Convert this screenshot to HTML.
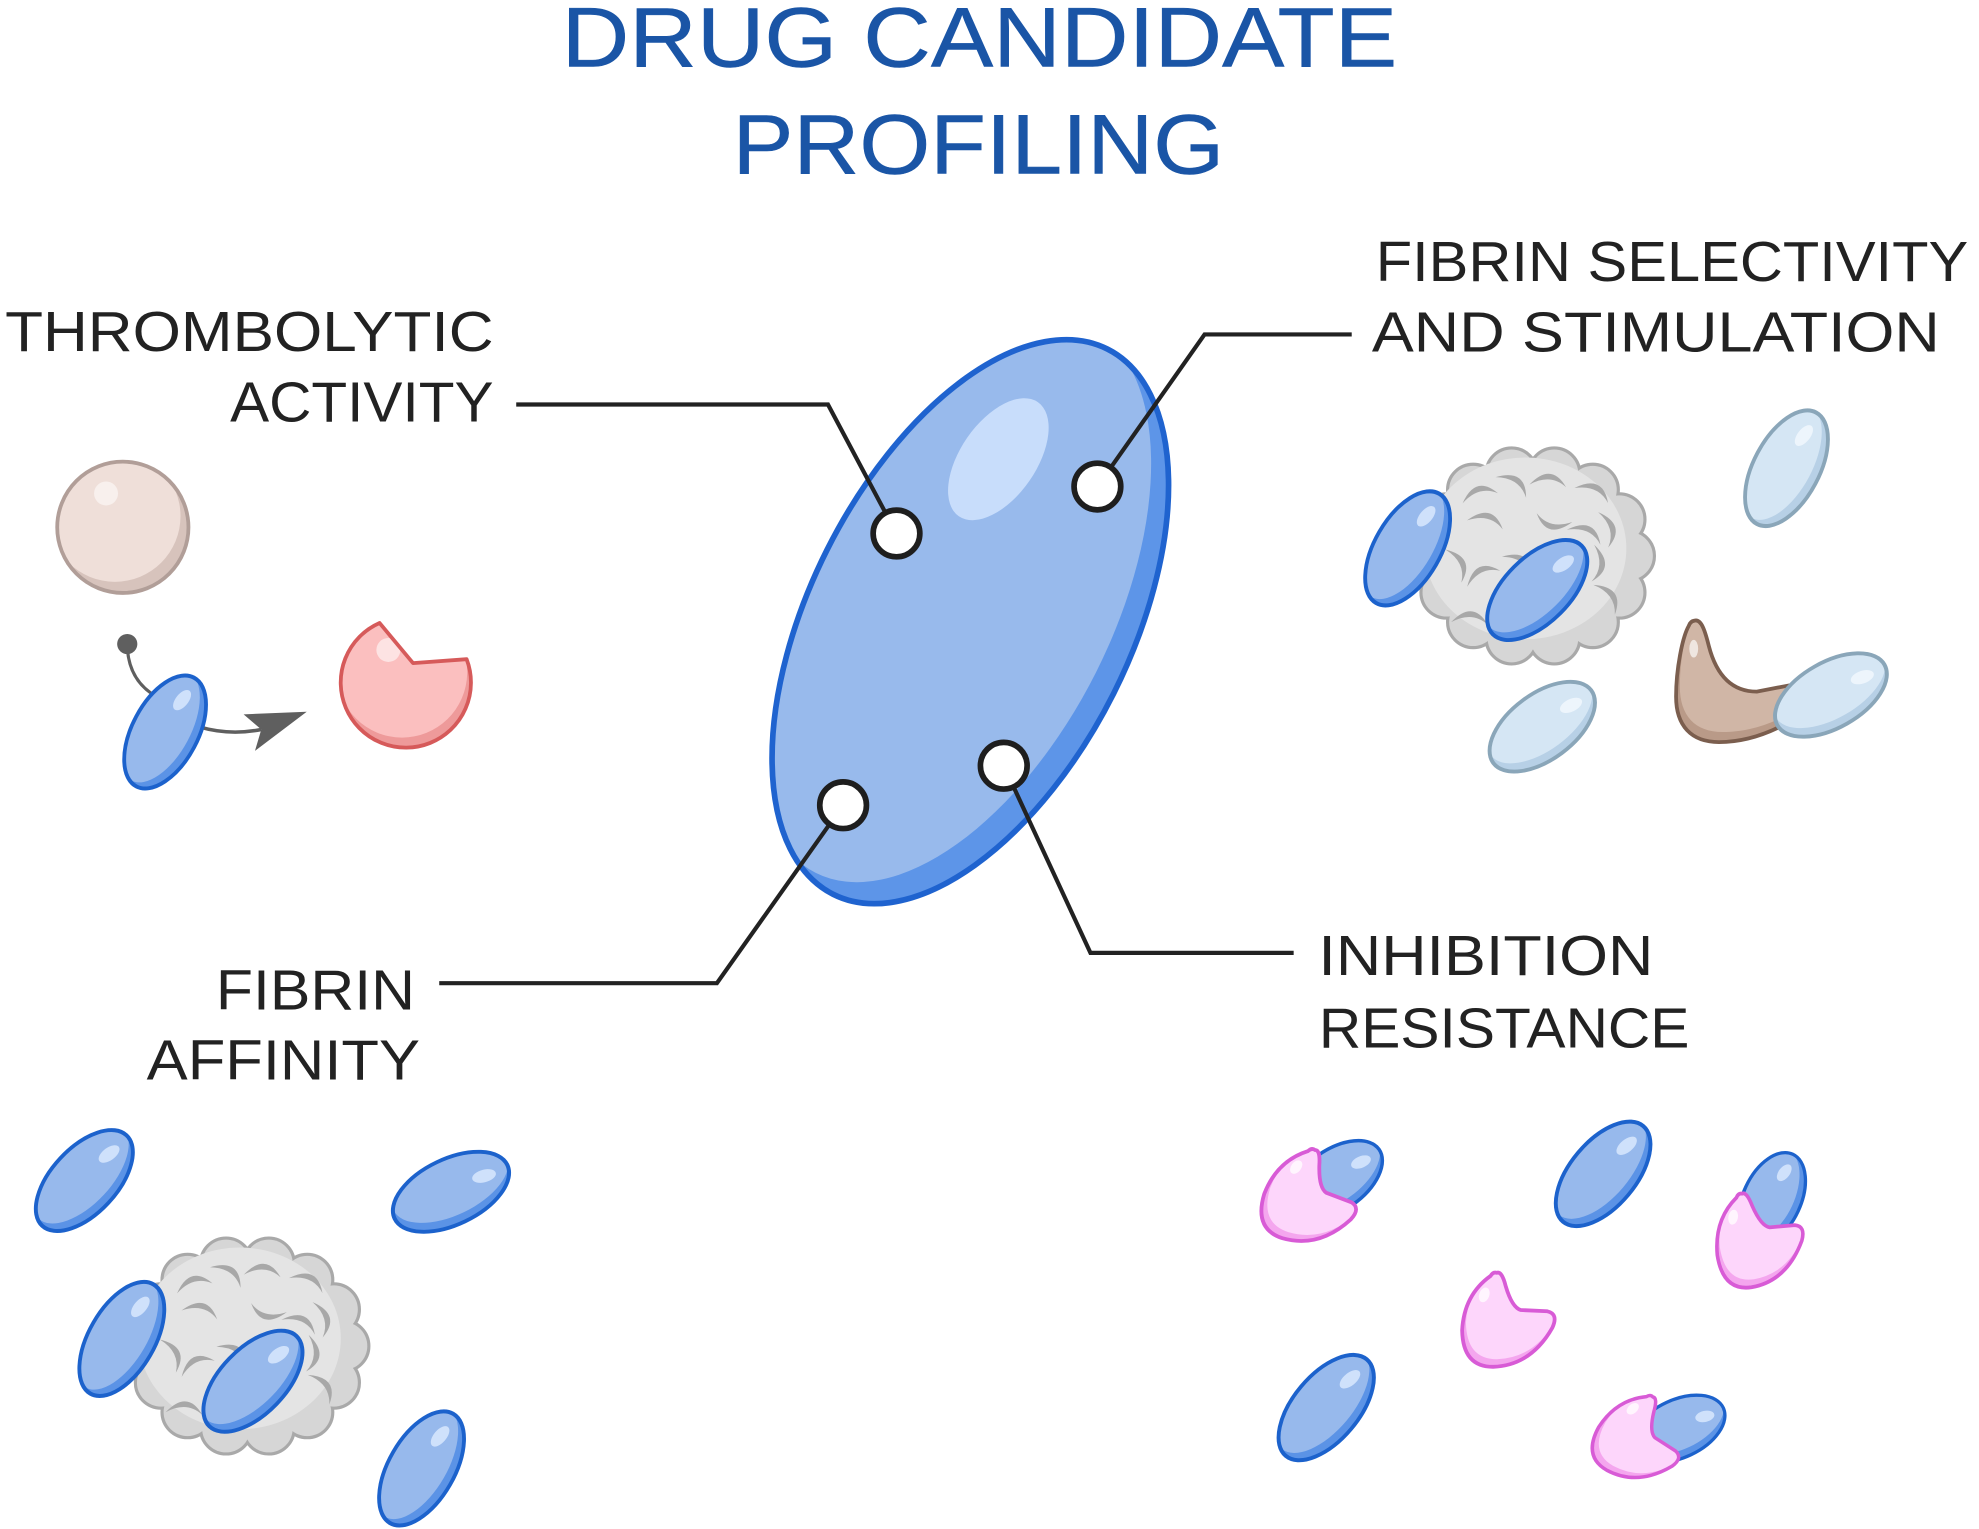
<!DOCTYPE html>
<html>
<head>
<meta charset="utf-8">
<style>
  html,body{margin:0;padding:0;background:#ffffff;}
  svg{display:block;}
  text{font-family:"Liberation Sans", sans-serif;}
</style>
</head>
<body>
<svg xmlns="http://www.w3.org/2000/svg" xmlns:xlink="http://www.w3.org/1999/xlink" width="1979" height="1529" viewBox="0 0 1568 1211.5">
  <defs>
    <!-- blue pill -->
    <clipPath id="pc"><ellipse rx="26" ry="46"/></clipPath>
    <g id="bp">
      <ellipse rx="26" ry="46" fill="#5b93e6"/>
      <ellipse cx="-6" cy="-2" rx="25" ry="46" fill="#97b9ec" clip-path="url(#pc)"/>
      <ellipse cx="0" cy="-27" rx="5" ry="9" fill="#cfe1fb" transform="rotate(12 0 -27)"/>
      <ellipse rx="26" ry="46" fill="none" stroke="#1c62cc" stroke-width="3"/>
    </g>
    <!-- light blue pill -->
    <g id="lp">
      <ellipse rx="26" ry="46" fill="#b7d0e6"/>
      <ellipse cx="-6" cy="-2" rx="25" ry="46" fill="#d5e6f4" clip-path="url(#pc)"/>
      <ellipse cx="0" cy="-27" rx="5" ry="9" fill="#edf5fc" transform="rotate(12 0 -27)"/>
      <ellipse rx="26" ry="46" fill="none" stroke="#8aa6b9" stroke-width="3"/>
    </g>
    <!-- big ellipse clip -->
    <clipPath id="bc"><ellipse rx="127" ry="241.8"/></clipPath>
    <!-- pink bitten shape -->
    <path id="pk" d="M-7,-37.5 Q-3,-39 0,-27 Q5,-10 12,-8 L33,-7 Q42,-5 37,6 Q20,36 -10,37 Q-34,37 -34.5,8 Q-33,-20 -12,-35 Q-10,-38.5 -7,-37.5Z"/>
    <clipPath id="pkc"><path d="M-7,-37.5 Q-3,-39 0,-27 Q5,-10 12,-8 L33,-7 Q42,-5 37,6 Q20,36 -10,37 Q-34,37 -34.5,8 Q-33,-20 -12,-35 Q-10,-38.5 -7,-37.5Z"/></clipPath>
    <g id="pkg">
      <use xlink:href="#pk" href="#pk" fill="#f4a6ee"/>
      <g clip-path="url(#pkc)"><use xlink:href="#pk" href="#pk" fill="#fdd6fb" transform="translate(3,-6)"/></g>
      <ellipse cx="-17" cy="-20" rx="4" ry="6" fill="#ffffff" opacity="0.75" transform="rotate(20 -17 -20)"/>
      <use xlink:href="#pk" href="#pk" fill="none" stroke="#d85bd6" stroke-width="3"/>
    </g>
    <!-- cloud blob -->
    <g id="blob">
      <ellipse rx="76" ry="67"/>
      <circle cx="76" cy="0" r="19"/>
      <circle cx="68.5" cy="29" r="19"/>
      <circle cx="47.4" cy="52.4" r="19"/>
      <circle cx="16.9" cy="65.3" r="19"/>
      <circle cx="-16.9" cy="65.3" r="19"/>
      <circle cx="-47.4" cy="52.4" r="19"/>
      <circle cx="-68.5" cy="29" r="19"/>
      <circle cx="-76" cy="0" r="19"/>
      <circle cx="-68.5" cy="-29" r="19"/>
      <circle cx="-47.4" cy="-52.4" r="19"/>
      <circle cx="-16.9" cy="-65.3" r="19"/>
      <circle cx="16.9" cy="-65.3" r="19"/>
      <circle cx="47.4" cy="-52.4" r="19"/>
      <circle cx="68.5" cy="-29" r="19"/>
    </g>
    <path id="cr" d="M-14,6 Q0,-15 15,3 Q1,-6 -14,6Z"/>
    <g id="cloud">
      <use xlink:href="#blob" href="#blob" fill="#a9a9a9" stroke="#a9a9a9" stroke-width="5"/>
      <use xlink:href="#blob" href="#blob" fill="#d6d6d6"/>
      <ellipse cx="-6" cy="-6" rx="80" ry="72" fill="#e4e4e4"/>
      <g fill="#a8a8a8">
        <use xlink:href="#cr" href="#cr" transform="translate(-43,-50) rotate(-10)"/>
        <use xlink:href="#cr" href="#cr" transform="translate(-15,-58) rotate(40)"/>
        <use xlink:href="#cr" href="#cr" transform="translate(12,-60) rotate(10)"/>
        <use xlink:href="#cr" href="#cr" transform="translate(48,-52) rotate(30)"/>
        <use xlink:href="#cr" href="#cr" transform="translate(-37,-29) rotate(20)"/>
        <use xlink:href="#cr" href="#cr" transform="translate(16,-26) rotate(200)"/>
        <use xlink:href="#cr" href="#cr" transform="translate(42,-19) rotate(30)"/>
        <use xlink:href="#cr" href="#cr" transform="translate(60,-22) rotate(80)"/>
        <use xlink:href="#cr" href="#cr" transform="translate(-59,6) rotate(70)"/>
        <use xlink:href="#cr" href="#cr" transform="translate(-41,14) rotate(-20)"/>
        <use xlink:href="#cr" href="#cr" transform="translate(52,6) rotate(100)"/>
        <use xlink:href="#cr" href="#cr" transform="translate(60,32) rotate(60)"/>
        <use xlink:href="#cr" href="#cr" transform="translate(-50,49) rotate(10)"/>
        <use xlink:href="#cr" href="#cr" transform="translate(-15,49) rotate(60)"/>
        <use xlink:href="#cr" href="#cr" transform="translate(20,30) rotate(-30)"/>
        <use xlink:href="#cr" href="#cr" transform="translate(-10,5) rotate(40)"/>
      </g>
    </g>
    <!-- horn clip -->
    <clipPath id="hc"><path d="M1342.5,491.8 C1348,490 1351,500 1354,512 C1360,535 1372,548 1392,548 L1418,543 L1414,574 C1395,584 1378,588 1362,588 C1340,588 1328,575 1328,552 C1328,530 1333,505 1338,496 C1339,493 1341,492 1342.5,491.8 Z"/></clipPath>
    <clipPath id="sc"><circle cx="97.3" cy="417.8" r="52"/></clipPath>
    <clipPath id="mc"><path d="M300.7,493.6 L327.2,525.4 L369.7,522.3 A51.6,51.6 0 1 1 300.7,493.6 Z"/></clipPath>
  </defs>

  <rect x="0" y="0" width="1568" height="1211.5" fill="#ffffff"/>

  <!-- Title -->
  <text x="445" y="52.8" font-size="67" fill="#1a55a6" stroke="#1a55a6" stroke-width="0.4" textLength="662" lengthAdjust="spacingAndGlyphs">DRUG CANDIDATE</text>
  <text x="580.5" y="137.3" font-size="67" fill="#1a55a6" stroke="#1a55a6" stroke-width="0.4" textLength="389.5" lengthAdjust="spacingAndGlyphs">PROFILING</text>

  <!-- Labels -->
  <g fill="#222222" font-size="44.6">
    <text x="4" y="278" textLength="387" lengthAdjust="spacingAndGlyphs">THROMBOLYTIC</text>
    <text x="182.3" y="334" textLength="208.7" lengthAdjust="spacingAndGlyphs">ACTIVITY</text>
    <text x="1090" y="222.7" textLength="469.5" lengthAdjust="spacingAndGlyphs">FIBRIN SELECTIVITY</text>
    <text x="1087" y="278.7" textLength="450" lengthAdjust="spacingAndGlyphs">AND STIMULATION</text>
    <text x="171" y="799.8" textLength="157.8" lengthAdjust="spacingAndGlyphs">FIBRIN</text>
    <text x="116.2" y="855.2" textLength="216.6" lengthAdjust="spacingAndGlyphs">AFFINITY</text>
    <text x="1044.6" y="772.6" textLength="265.4" lengthAdjust="spacingAndGlyphs">INHIBITION</text>
    <text x="1045" y="829.9" textLength="293.6" lengthAdjust="spacingAndGlyphs">RESISTANCE</text>
  </g>

  <!-- Big central ellipse -->
  <g transform="translate(768.8,492.6) rotate(26.7)">
    <ellipse rx="127" ry="241.8" fill="#5d95e8"/>
    <ellipse cx="-20" cy="-9" rx="127" ry="241.8" fill="#98baec" clip-path="url(#bc)"/>
    <ellipse cx="-38" cy="-125" rx="30" ry="55" fill="#c8ddfb" transform="rotate(8 -38 -125)"/>
    <ellipse rx="127" ry="241.8" fill="none" stroke="#1f63cf" stroke-width="4.5"/>
  </g>

  <!-- Connector lines -->
  <g fill="none" stroke="#222222" stroke-width="3.3" stroke-linejoin="miter">
    <polyline points="409,320.5 656,320.5 710.3,422.7"/>
    <polyline points="1071,265 954.4,265 869.5,385.5"/>
    <polyline points="348,779 568,779 668,638"/>
    <polyline points="1025,755 864,755 795.3,606.7"/>
  </g>
  <g fill="#ffffff" stroke="#1e1e1e" stroke-width="4.5">
    <circle cx="710.3" cy="422.7" r="18.5"/>
    <circle cx="869.5" cy="385.5" r="18.5"/>
    <circle cx="668" cy="638" r="18.5"/>
    <circle cx="795.3" cy="606.7" r="18.5"/>
  </g>

  <!-- Top-left group: sphere -->
  <circle cx="97.3" cy="417.8" r="52" fill="#d7c3bc"/>
  <g clip-path="url(#sc)"><circle cx="91" cy="409" r="52" fill="#efdfd9"/></g>
  <circle cx="84" cy="391" r="9.5" fill="#f8f0ed"/>
  <circle cx="97.3" cy="417.8" r="52" fill="none" stroke="#b19e98" stroke-width="3"/>

  <!-- dot + curve + pill + arrow -->
  <path d="M101,515 Q103,540 124,552" fill="none" stroke="#5f5f5f" stroke-width="2.5"/>
  <circle cx="100.8" cy="510.3" r="8" fill="#5f5f5f"/>
  <path d="M158,576 Q182,583 207,578" fill="none" stroke="#5f5f5f" stroke-width="2.8"/>
  <polygon points="193,566 243,564 202,595 207,578" fill="#5f5f5f"/>
  <use xlink:href="#bp" href="#bp" transform="translate(130.8,580) rotate(28) scale(1,1.06)"/>

  <!-- pink pacman -->
  <path d="M300.7,493.6 L327.2,525.4 L369.7,522.3 A51.6,51.6 0 1 1 300.7,493.6 Z" fill="#ee9a9a"/>
  <g clip-path="url(#mc)"><path d="M300.7,493.6 L327.2,525.4 L369.7,522.3 A51.6,51.6 0 1 1 300.7,493.6 Z" fill="#fbbfbf" transform="translate(-3,-8)"/></g>
  <circle cx="307.7" cy="515" r="9.5" fill="#fde3e3"/>
  <path d="M300.7,493.6 L327.2,525.4 L369.7,522.3 A51.6,51.6 0 1 1 300.7,493.6 Z" fill="none" stroke="#d65a5a" stroke-width="3" stroke-linejoin="round"/>

  <!-- Top-right group -->
  <use xlink:href="#cloud" href="#cloud" transform="translate(1214.6,440.5)"/>
  <use xlink:href="#bp" href="#bp" transform="translate(1115.3,434.5) rotate(30) scale(1,1.087)"/>
  <use xlink:href="#bp" href="#bp" transform="translate(1218,467.5) rotate(45) scale(1,1.08)"/>
  <use xlink:href="#lp" href="#lp" transform="translate(1415.5,371) rotate(28) scale(1,1.087)"/>
  <use xlink:href="#lp" href="#lp" transform="translate(1222,575.8) rotate(53.4) scale(1,1.05)"/>
  <!-- horn -->
  <path d="M1342.5,491.8 C1348,490 1351,500 1354,512 C1360,535 1372,548 1392,548 L1418,543 L1414,574 C1395,584 1378,588 1362,588 C1340,588 1328,575 1328,552 C1328,530 1333,505 1338,496 C1339,493 1341,492 1342.5,491.8 Z" fill="#b99a88"/>
  <g clip-path="url(#hc)"><path d="M1342.5,491.8 C1348,490 1351,500 1354,512 C1360,535 1372,548 1392,548 L1418,543 L1414,574 C1395,584 1378,588 1362,588 C1340,588 1328,575 1328,552 C1328,530 1333,505 1338,496 C1339,493 1341,492 1342.5,491.8 Z" fill="#d0b6a6" transform="translate(3,-8)"/></g>
  <ellipse cx="1342" cy="514" rx="3.5" ry="7" fill="#efe6e0"/>
  <path d="M1342.5,491.8 C1348,490 1351,500 1354,512 C1360,535 1372,548 1392,548 L1418,543 L1414,574 C1395,584 1378,588 1362,588 C1340,588 1328,575 1328,552 C1328,530 1333,505 1338,496 C1339,493 1341,492 1342.5,491.8 Z" fill="none" stroke="#7b5e4e" stroke-width="3"/>
  <use xlink:href="#lp" href="#lp" transform="translate(1450.7,550.7) rotate(60.4) scale(1,1.06)"/>

  <!-- Bottom-left group -->
  <use xlink:href="#bp" href="#bp" transform="translate(66.8,935.4) rotate(43) scale(1,1.065)"/>
  <use xlink:href="#bp" href="#bp" transform="translate(357.3,944.3) rotate(64.5) scale(1,1.075)"/>
  <use xlink:href="#cloud" href="#cloud" transform="translate(196,1066.5)"/>
  <use xlink:href="#bp" href="#bp" transform="translate(96.5,1060.9) rotate(30) scale(1,1.087)"/>
  <use xlink:href="#bp" href="#bp" transform="translate(200.4,1094.4) rotate(44) scale(1,1.08)"/>
  <use xlink:href="#bp" href="#bp" transform="translate(334,1163.5) rotate(30) scale(1,1.087)"/>

  <!-- Bottom-right group -->
  <use xlink:href="#bp" href="#bp" transform="translate(1270.2,930.1) rotate(40) scale(1,1.075)"/>
  <use xlink:href="#bp" href="#bp" transform="translate(1050.8,1115.3) rotate(40) scale(1,1.085)"/>

  <use xlink:href="#bp" href="#bp" transform="translate(1058,935) rotate(55) scale(0.92,0.92)"/>
  <use xlink:href="#pkg" href="#pkg" transform="translate(1037,949) rotate(18)"/>

  <use xlink:href="#bp" href="#bp" transform="translate(1404,950) rotate(25) scale(0.88,0.85)"/>
  <use xlink:href="#pkg" href="#pkg" transform="translate(1392,982) rotate(-8) scale(0.95,1)"/>

  <use xlink:href="#pkg" href="#pkg" transform="translate(1193,1046)"/>

  <use xlink:href="#bp" href="#bp" transform="translate(1330,1132) rotate(65) scale(0.88,0.85)"/>
  <use xlink:href="#pkg" href="#pkg" transform="translate(1298,1140) rotate(30) scale(0.92)"/>
</svg>
</body>
</html>
